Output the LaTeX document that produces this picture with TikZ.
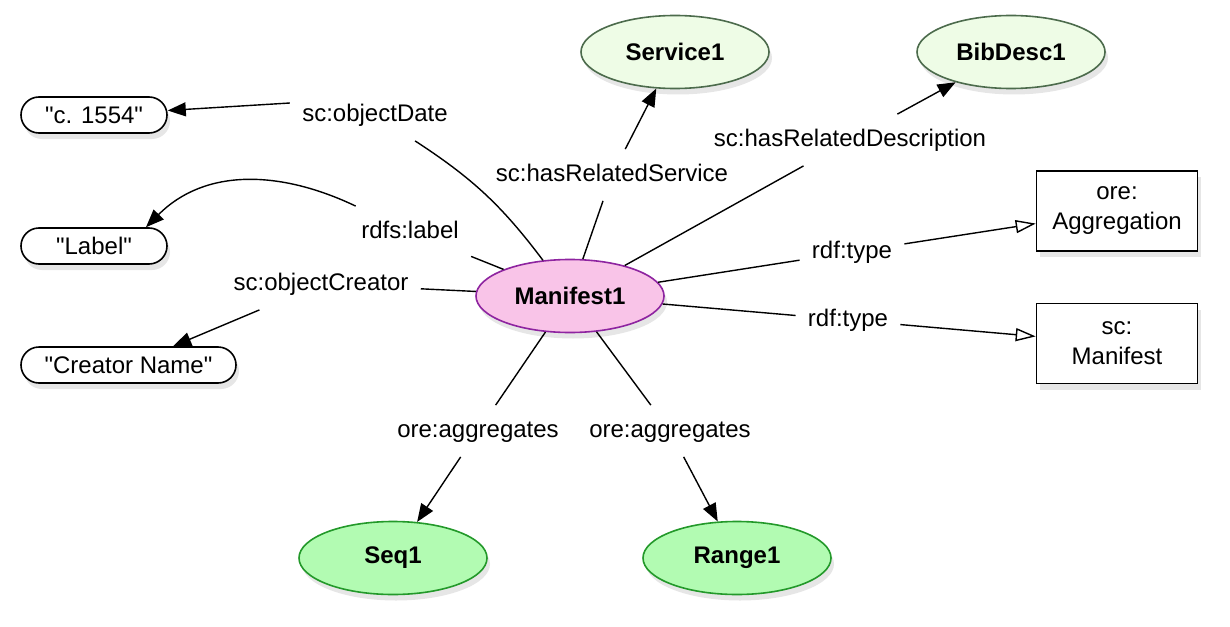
\documentclass[tikz,border=0pt]{standalone}
\usepackage{fontspec}
\setmainfont{Liberation Sans}
\usetikzlibrary{shapes.geometric, arrows.meta, shadows}
\definecolor{manifestfill}{HTML}{F9C4E8}
\definecolor{manifestdraw}{HTML}{8E24A0}
\definecolor{linkedfill}{HTML}{EEFCE6}
\definecolor{linkeddraw}{HTML}{4C6B4C}
\definecolor{partfill}{HTML}{B2FBB2}
\definecolor{partdraw}{HTML}{23992A}
\newcommand{\propfont}{\fontsize{12}{13}\selectfont}
\newcommand{\q}{\textquotedbl}
\tikzset{
  softshadow/.style={drop shadow={opacity=.2, shadow xshift=1.5pt, shadow yshift=-3pt}},
  resource/.style={ellipse, draw, line width=0.8pt, minimum width=94pt, minimum height=36.5pt, inner sep=0pt, font=\propfont\bfseries, softshadow},
  manifestnode/.style={resource, fill=manifestfill, draw=manifestdraw},
  linkednode/.style={resource, fill=linkedfill, draw=linkeddraw},
  partnode/.style={resource, fill=partfill, draw=partdraw},
  literal/.style={draw, fill=white, rounded corners=9pt, line width=0.8pt, minimum height=18pt, minimum width=73pt, inner sep=0pt, font=\propfont, softshadow},
  classbox/.style={draw, fill=white, line width=0.8pt, minimum width=80.5pt, minimum height=40pt, align=center, font=\fontsize{12}{15}\selectfont, softshadow},
  prop/.style={inner xsep=6pt, inner ysep=7pt, text height=9pt, text depth=2.5pt, font=\propfont},
  link/.style={line width=0.7pt},
  solidarrow/.style={link, -{Triangle[length=9pt,width=7pt]}},
  typearrow/.style={link, -{Triangle[open,length=10pt,width=6.5pt,fill=white]}},
}

\begin{document}
\begin{tikzpicture}[x=0.5pt,y=-0.5pt]
\useasboundingbox (0,0) rectangle (1230,626);
% resources
\node[manifestnode] (m) at (570,296) {Manifest1};
\node[linkednode] (serv) at (675,52) {Service1};
\node[linkednode] (bib) at (1011,52) {BibDesc1};
\node[partnode] (seq) at (393,558) {Seq1};
\node[partnode] (rng) at (737,558) {Range1};
% literals and classes
\node[literal] (date) at (94,115) {\q c. 1554\q};
\node[literal] (lbl) at (94,246) {\q Label\q};
\node[literal, minimum width=107.5pt] (creator) at (128.5,365) {\q Creator Name\q};
\node[classbox] (agg) at (1117,211) {ore:\\Aggregation};
\node[classbox] (mani) at (1117,343.5) {sc:\\Manifest};
% property labels
\node[prop] (odate) at (375,115) {sc:objectDate};
\node[prop] (rlabel) at (410,232) {rdfs:label};
\node[prop] (ocreator) at (321,284) {sc:objectCreator};
\node[prop] (hserv) at (612,175) {sc:hasRelatedService};
\node[prop] (hdesc) at (850,140) {sc:hasRelatedDescription};
\node[prop] (type1) at (852,252) {rdf:type};
\node[prop] (type2) at (848,320) {rdf:type};
\node[prop] (agg1) at (478,431) {ore:aggregates};
\node[prop] (agg2) at (670,431) {ore:aggregates};
% edges
\draw[link] (odate) to[bend left=10] (m);
\draw[solidarrow] ([yshift=6pt]odate.west) -- (date);
\draw[link] (m) -- (rlabel);
\draw[solidarrow] (rlabel) .. controls (280,170) and (205,168) .. ([xshift=26pt]lbl.north);
\draw[link] (m) -- (ocreator);
\draw[solidarrow] (ocreator) -- (creator);
\draw[link] (m) -- (hserv);
\draw[solidarrow] (hserv) -- (serv);
\draw[link] (m) -- (hdesc);
\draw[solidarrow] (hdesc) -- (bib);
\draw[link] (m) -- (type1);
\draw[typearrow] (type1) -- (agg);
\draw[link] (m) -- (type2);
\draw[typearrow] (type2) -- (mani);
\draw[link] (m) -- (agg1);
\draw[solidarrow] (agg1) -- (seq);
\draw[link] (m) -- (agg2);
\draw[solidarrow] (agg2) -- (rng);
\end{tikzpicture}
\end{document}
